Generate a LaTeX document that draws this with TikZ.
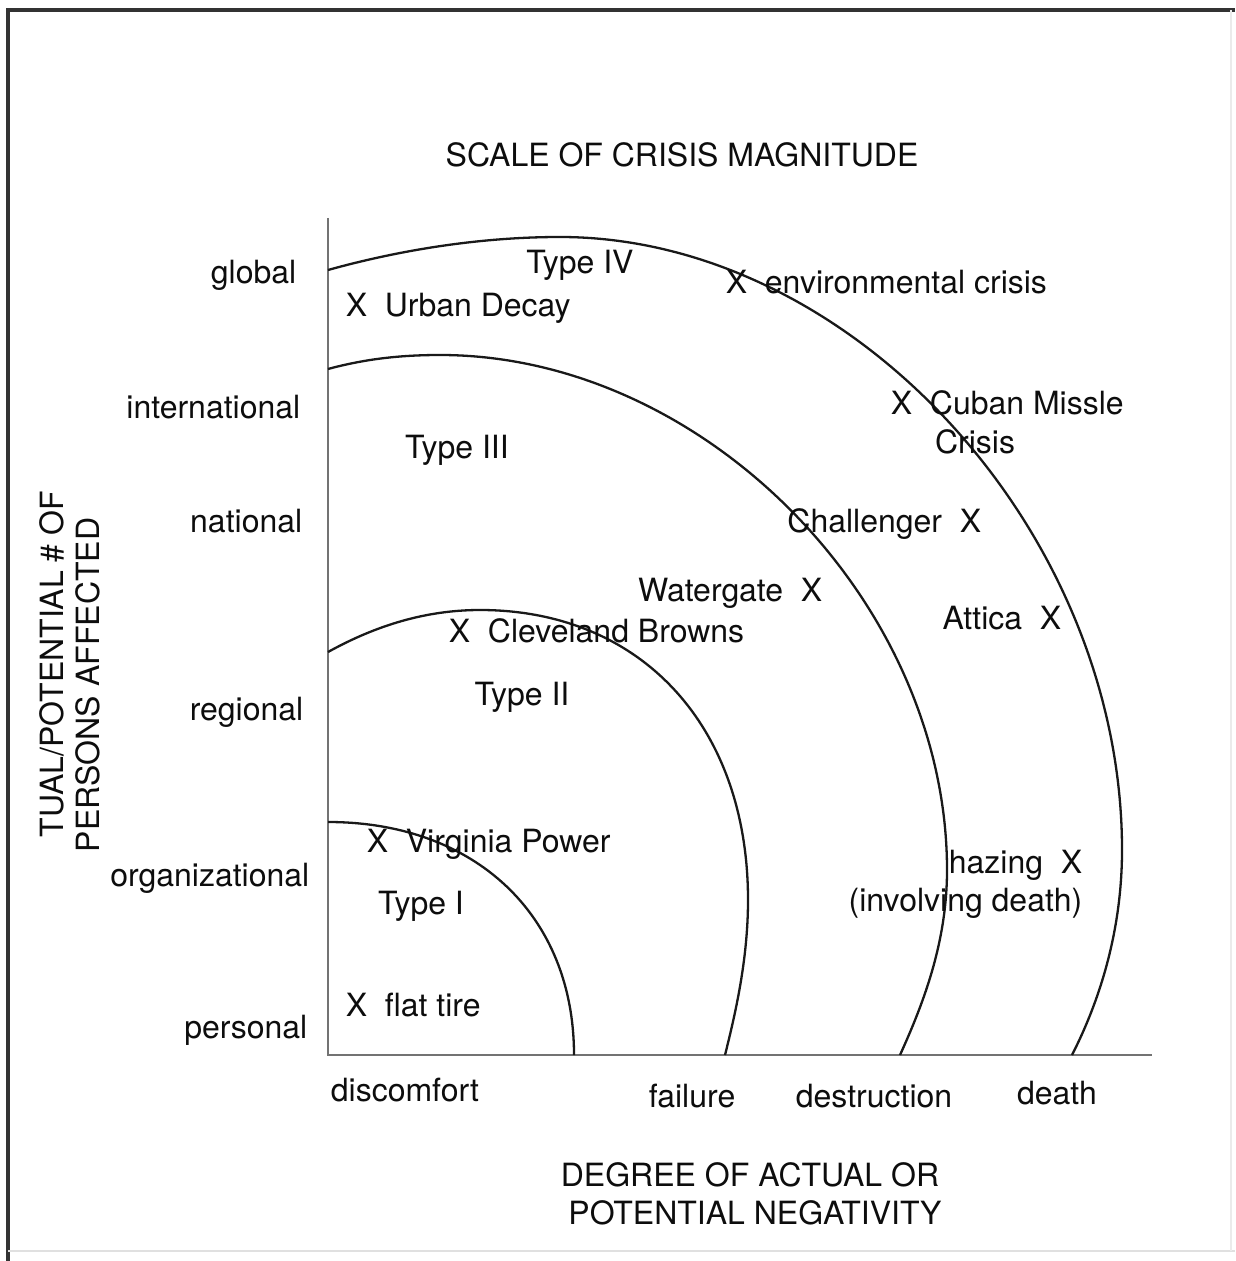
\documentclass[tikz,border=0pt]{standalone}
\usepackage{fontspec}
\setmainfont{TeX Gyre Heros}

\tikzset{every picture/.style={line width=0.75pt}}

\begin{document}
\begin{tikzpicture}[x=0.5pt,y=0.5pt,yscale=-1,xscale=1,
	txt/.style={inner sep=0pt,font=\fontsize{16}{19}\selectfont,text=black!95},
	ring/.style={line width=1.15pt,black!90},
	axis/.style={line width=0.8pt,black!55}]
	\useasboundingbox (0,0) rectangle (1235,1261);

	%Frame
	\draw [line width=1.8pt,black!80] (8,1261) -- (8,10) -- (1235,10) ;
	\draw [line width=0.6pt,black!12] (8,1251) -- (1235,1251) ;
	\draw [line width=0.6pt,black!8] (1231,10) -- (1231,1251) ;

	%Straight Lines (axes)
	\coordinate (ytop) at (328,218) ;
	\coordinate (o) at (328,1055) ;
	\coordinate (xend) at (1152,1055) ;
	\draw [axis] (ytop) -- (o) -- (xend) ;

	%Curve Lines (Type I)
	\draw [ring] (328,822) .. controls (475,822) and (574,915) .. (574,1055) ;
	%Curve Lines (Type II)
	\draw [ring] (328,652) .. controls (375,626) and (425,610) .. (480,610)
		.. controls (641,610) and (748,726) .. (748,900)
		.. controls (748,960) and (735,1015) .. (725,1055) ;
	%Curve Lines (Type III)
	\draw [ring] (328,369) .. controls (365,359) and (400,355) .. (440,355)
		.. controls (704,355) and (947,602) .. (947,870)
		.. controls (947,940) and (925,1000) .. (900,1055) ;
	%Curve Lines (Type IV)
	\draw [ring] (328,270) .. controls (400,250) and (480,237) .. (560,237)
		.. controls (852,237) and (1122,531) .. (1122,850)
		.. controls (1122,930) and (1100,1000) .. (1072,1055) ;

	% Text Node
	\node [txt] (title) at (682,155) {SCALE OF CRISIS MAGNITUDE};
	% Text Node
	\node [txt,anchor=east] (global) at (297,275) {global};
	% Text Node
	\node [txt,anchor=east] (intl) at (301,407) {international};
	% Text Node
	\node [txt,anchor=east] (natl) at (303,521) {national};
	% Text Node
	\node [txt,anchor=east] (regl) at (304,712) {regional};
	% Text Node
	\node [txt,anchor=east] (orgl) at (310,878) {organizational};
	% Text Node
	\node [txt,anchor=east] (pers) at (308,1030) {personal};
	% Text Node
	\node [txt,rotate=90] (ylabA) at (52,664) {TUAL/POTENTIAL \# OF};
	% Text Node
	\node [txt,rotate=90] (ylabB) at (88,685) {PERSONS AFFECTED};
	% Text Node
	\node [txt] (discomfort) at (405,1090) {discomfort};
	% Text Node
	\node [txt] (failure) at (692,1096) {failure};
	% Text Node
	\node [txt] (destruction) at (874,1096) {destruction};
	% Text Node
	\node [txt] (death) at (1057,1093) {death};
	% Text Node
	\node [txt] (xlabA) at (750,1175) {DEGREE OF ACTUAL OR};
	% Text Node
	\node [txt] (xlabB) at (755,1213) {POTENTIAL NEGATIVITY};

	% Text Node
	\node [txt] (typeIV) at (580,265) {Type IV};
	% Text Node
	\node [txt,anchor=west] (environ) at (725,282) {X~~environmental crisis};
	% Text Node
	\node [txt,anchor=west] (urban) at (345,308) {X~~Urban Decay};
	% Text Node
	\node [txt] (typeIII) at (457,450) {Type III};
	% Text Node
	\node [txt,anchor=west] (cuban) at (890,403) {X~~Cuban Missle};
	% Text Node
	\node [txt] (cubanB) at (975,442) {Crisis};
	% Text Node
	\node [txt,anchor=east] (challenger) at (982,524) {Challenger~~X};
	% Text Node
	\node [txt,anchor=east] (watergate) at (823,593) {Watergate~~X};
	% Text Node
	\node [txt,anchor=west] (cleveland) at (448,631) {X~~Cleveland Browns};
	% Text Node
	\node [txt,anchor=east] (attica) at (1062,618) {Attica~~X};
	% Text Node
	\node [txt] (typeII) at (522,697) {Type II};
	% Text Node
	\node [txt,anchor=west] (virginia) at (366,844) {X~~Virginia Power};
	% Text Node
	\node [txt] (typeI) at (421,906) {Type I};
	% Text Node
	\node [txt,anchor=east] (hazing) at (1083,865) {hazing~~X};
	% Text Node
	\node [txt,anchor=east] (hazingB) at (1083,903) {(involving death)};
	% Text Node
	\node [txt,anchor=west] (flattire) at (345,1005) {X~~flat tire};

\end{tikzpicture}
\end{document}
